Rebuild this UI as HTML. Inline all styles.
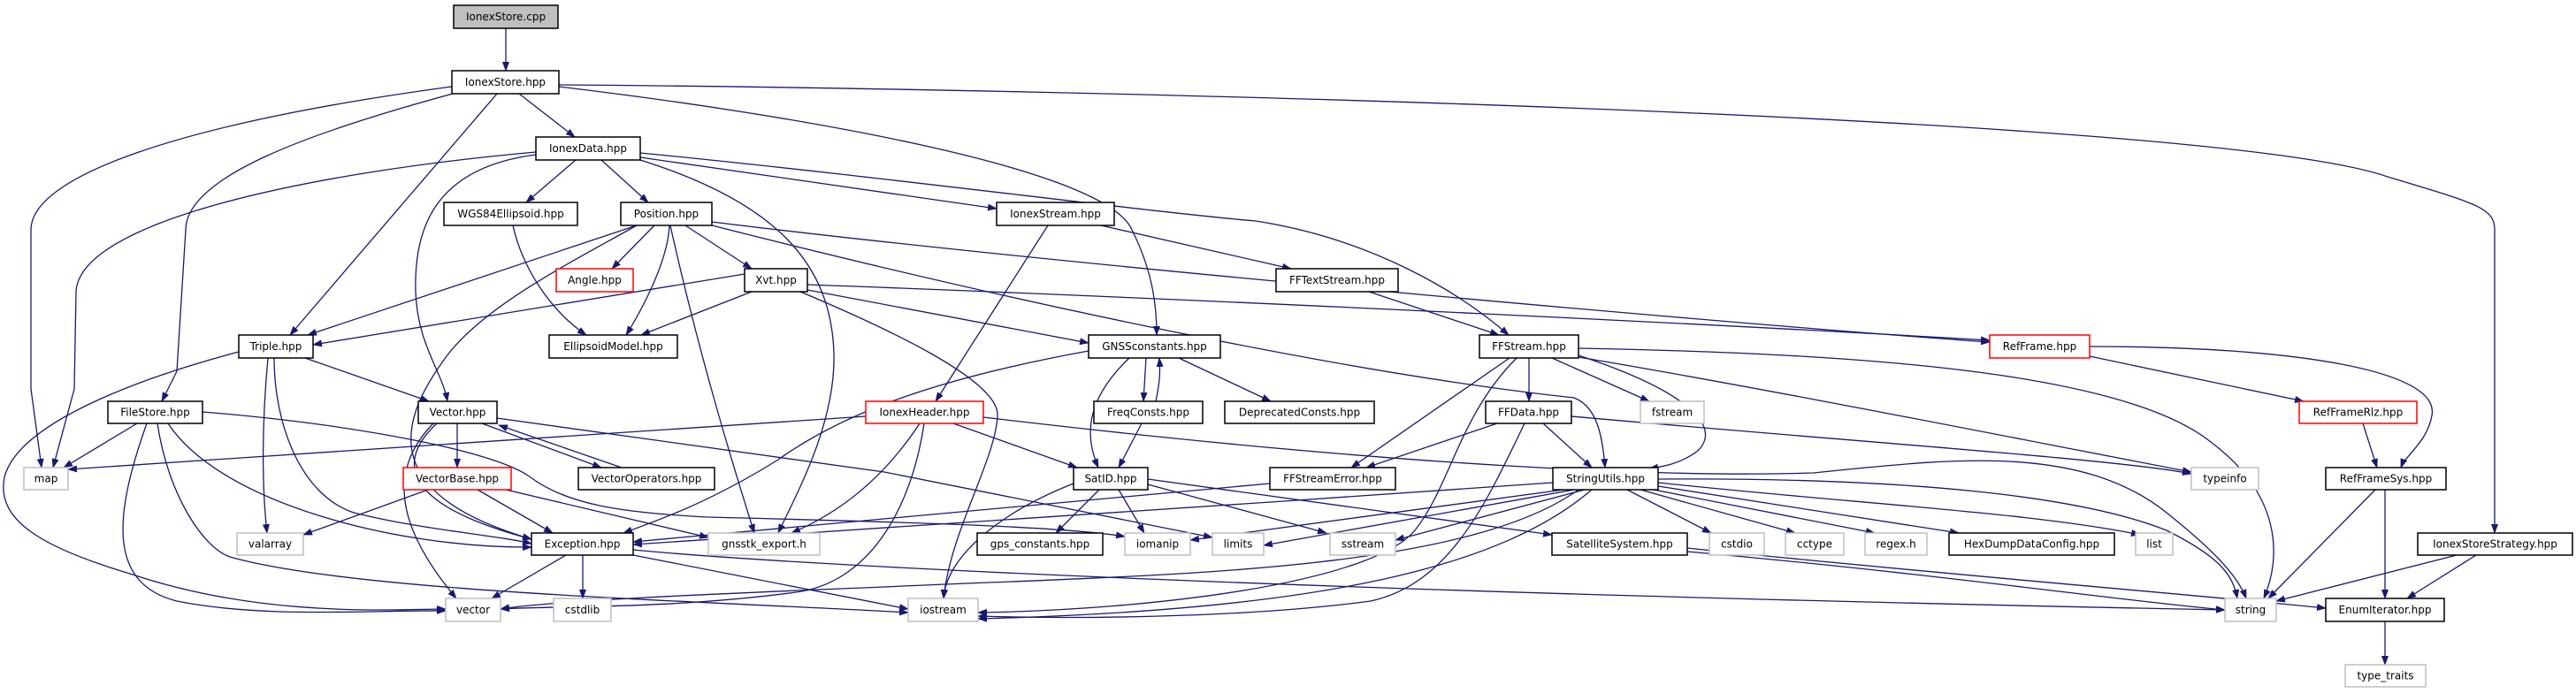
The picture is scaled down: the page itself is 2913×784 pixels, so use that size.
<!DOCTYPE html>
<html><head><meta charset="utf-8"><style>
html,body{margin:0;padding:0;background:#fff;}
svg{display:block;}
text{font-family:"DejaVu Sans","Liberation Sans",sans-serif;font-size:12px;fill:#000;}
.e{fill:none;stroke:#191970;stroke-width:1.3;marker-end:url(#a);}
.n{fill:#fff;stroke:#000;stroke-width:1.5;}
.r{fill:#fff;stroke:#ff0000;stroke-width:1.5;}
.g{fill:#fff;stroke:#bfbfbf;stroke-width:1.5;}
.c{fill:#bfbfbf;stroke:#000;stroke-width:1.5;}
</style></head><body>
<svg width="2913" height="784" viewBox="0 0 2913 784" xmlns="http://www.w3.org/2000/svg">
<defs><marker id="a" markerUnits="userSpaceOnUse" markerWidth="11" markerHeight="8" refX="10" refY="4" orient="auto"><path d="M0,0 L11,4 L0,8 z" fill="#191970"/></marker></defs>
<g>
<path class="e" d="M572,32 L572,80"/>
<path class="e" d="M511,98 C200,140 35,200 35,260 L35,440 L47,529"/>
<path class="e" d="M512,106 C350,150 210,200 210,260 L200,420 L183,454"/>
<path class="e" d="M562,106 L328,379"/>
<path class="e" d="M587,106 L650,155"/>
<path class="e" d="M632,98 C900,130 1250,190 1280,260 C1305,310 1308,350 1308,379"/>
<path class="e" d="M632,96 C1200,100 2500,130 2700,200 C2800,230 2821,235 2821,260 L2821,603"/>
<path class="e" d="M606,172 C350,195 90,250 86,330 L84,440 L60,529"/>
<path class="e" d="M606,175 C490,190 468,260 470,330 C472,390 500,420 506,454"/>
<path class="e" d="M651,181 L595,229"/>
<path class="e" d="M680,181 L733,229"/>
<path class="e" d="M724,178 L1127,236"/>
<path class="e" d="M724,173 C1000,200 1300,240 1420,250 C1550,270 1650,330 1706,379"/>
<path class="e" d="M724,181 C880,230 940,300 943,400 C945,480 900,560 880,603"/>
<path class="e" d="M580,255 C590,300 620,350 663,379"/>
<path class="e" d="M720,255 L348,379"/>
<path class="e" d="M720,255 C640,300 540,350 500,410 C450,480 430,560 601,610"/>
<path class="e" d="M740,255 L692,304"/>
<path class="e" d="M757,255 C755,300 720,360 708,379"/>
<path class="e" d="M758,255 C790,400 830,530 853,603"/>
<path class="e" d="M775,255 L850,304"/>
<path class="e" d="M805,251 C1200,300 2000,370 2250,387"/>
<path class="e" d="M805,255 C1100,330 1500,420 1780,450 C1805,460 1812,490 1815,529"/>
<path class="e" d="M842,310 L354,390"/>
<path class="e" d="M850,330 L725,379"/>
<path class="e" d="M913,328 L1231,388"/>
<path class="e" d="M913,322 C1400,340 2000,370 2250,385"/>
<path class="e" d="M905,330 C1000,370 1130,430 1128,470 C1126,520 1075,600 1067,677"/>
<path class="e" d="M345,405 L485,454"/>
<path class="e" d="M303,405 C296,480 296,550 302,603"/>
<path class="e" d="M310,405 C310,480 340,560 400,580 C480,600 560,605 601,615"/>
<path class="e" d="M270,398 C150,430 20,480 5,540 C-5,590 50,620 150,650 C300,700 450,689 504,689"/>
<path class="e" d="M155,479 L72,529"/>
<path class="e" d="M190,479 C250,570 450,620 601,619"/>
<path class="e" d="M166,479 C130,580 120,660 200,680 C300,700 420,690 504,691"/>
<path class="e" d="M178,479 C190,560 230,620 260,630 C400,670 800,680 1027,693"/>
<path class="e" d="M229,466 C400,480 560,510 600,540 C640,570 700,580 800,585 C1000,590 1200,595 1272,607"/>
<path class="e" d="M517,479 L517,529"/>
<path class="e" d="M545,479 L680,529"/>
<path class="e" d="M703,529 L564,481"/>
<path class="e" d="M494,479 C450,520 450,570 601,610"/>
<path class="e" d="M490,479 C430,540 460,610 516,677"/>
<path class="e" d="M562,473 L1000,534 L1371,608"/>
<path class="e" d="M484,554 L343,605"/>
<path class="e" d="M540,554 L625,603"/>
<path class="e" d="M572,554 L801,608"/>
<path class="e" d="M979,471 L77,531"/>
<path class="e" d="M1078,479 L1218,529"/>
<path class="e" d="M1040,479 C1000,540 950,580 895,603"/>
<path class="e" d="M1045,479 C1030,580 980,660 900,670 C750,690 620,685 566,689"/>
<path class="e" d="M1112,472 C1600,530 1900,540 2050,535 C2200,520 2350,500 2450,580 C2500,620 2530,650 2540,677"/>
<path class="e" d="M1185,255 L1058,454"/>
<path class="e" d="M1245,255 L1460,304"/>
<path class="e" d="M1548,330 L1695,379"/>
<path class="e" d="M1277,405 C1230,450 1225,490 1242,529"/>
<path class="e" d="M1296,405 L1293,454"/>
<path class="e" d="M1307,454 C1312,430 1312,420 1311,405"/>
<path class="e" d="M1333,405 L1437,454"/>
<path class="e" d="M1231,397 C1050,430 950,470 880,520 C800,570 740,590 705,603"/>
<path class="e" d="M1291,479 L1265,529"/>
<path class="e" d="M1243,554 L1194,603"/>
<path class="e" d="M1265,554 L1294,603"/>
<path class="e" d="M1298,548 L1500,603"/>
<path class="e" d="M1298,542 L1755,605"/>
<path class="e" d="M1214,547 C1130,580 1070,630 1067,677"/>
<path class="e" d="M1707,405 L1528,529"/>
<path class="e" d="M1729,405 L1729,454"/>
<path class="e" d="M1755,405 L1865,454"/>
<path class="e" d="M1785,402 C1900,440 1950,480 1920,510 C1900,525 1880,528 1865,530"/>
<path class="e" d="M1785,404 C2000,440 2300,500 2478,534"/>
<path class="e" d="M1785,394 C2100,400 2400,420 2500,500 C2580,560 2580,630 2560,677"/>
<path class="e" d="M1715,405 C1650,470 1640,550 1600,600 C1550,660 1300,690 1106,693"/>
<path class="e" d="M1693,479 L1545,529"/>
<path class="e" d="M1745,479 L1800,529"/>
<path class="e" d="M1777,471 C2100,500 2400,520 2478,536"/>
<path class="e" d="M1724,479 C1680,570 1640,660 1550,680 C1400,700 1200,700 1106,697"/>
<path class="e" d="M1436,547 L716,613"/>
<path class="e" d="M1756,546 C1400,570 1000,600 716,616"/>
<path class="e" d="M1768,554 L1346,611"/>
<path class="e" d="M1780,554 L1429,617"/>
<path class="e" d="M1792,554 L1578,611"/>
<path class="e" d="M1800,554 C1700,640 1500,690 1106,700"/>
<path class="e" d="M1785,554 C1650,650 1300,650 1000,664 C800,672 620,680 566,689"/>
<path class="e" d="M1840,554 L1935,603"/>
<path class="e" d="M1855,554 L2030,603"/>
<path class="e" d="M1870,554 L2120,603"/>
<path class="e" d="M1875,550 L2215,603"/>
<path class="e" d="M1875,546 C2100,570 2300,580 2420,605"/>
<path class="e" d="M1875,542 C2150,540 2350,560 2450,600 C2510,630 2525,650 2530,677"/>
<path class="e" d="M1908,624 C2200,650 2400,680 2516,690"/>
<path class="e" d="M1908,620 C2200,650 2450,670 2630,688"/>
<path class="e" d="M640,628 L556,677"/>
<path class="e" d="M659,628 L659,677"/>
<path class="e" d="M716,628 L1027,689"/>
<path class="e" d="M716,622 C900,640 1500,670 2516,690"/>
<path class="e" d="M2363,403 L2605,454"/>
<path class="e" d="M2363,392 C2600,392 2760,420 2750,470 C2745,500 2720,515 2715,529"/>
<path class="e" d="M2672,479 L2688,529"/>
<path class="e" d="M2686,554 L2565,677"/>
<path class="e" d="M2697,554 L2697,677"/>
<path class="e" d="M2778,628 L2574,680"/>
<path class="e" d="M2800,628 L2722,677"/>
<path class="e" d="M2697,703 L2697,752"/>
</g>
<g text-anchor="middle" dominant-baseline="central">
<rect class="c" x="513" y="6" width="118" height="26"/><text x="572" y="19">IonexStore.cpp</text>
<rect class="n" x="511" y="80" width="121" height="26"/><text x="571.5" y="93">IonexStore.hpp</text>
<rect class="n" x="606" y="155" width="118" height="26"/><text x="665" y="168">IonexData.hpp</text>
<rect class="n" x="502" y="229" width="151" height="26"/><text x="577.5" y="242">WGS84Ellipsoid.hpp</text>
<rect class="n" x="702" y="229" width="103" height="26"/><text x="753.5" y="242">Position.hpp</text>
<rect class="r" x="629" y="304" width="87" height="26"/><text x="672.5" y="317">Angle.hpp</text>
<rect class="n" x="842" y="304" width="71" height="26"/><text x="877.5" y="317">Xvt.hpp</text>
<rect class="n" x="270" y="379" width="84" height="26"/><text x="312" y="392">Triple.hpp</text>
<rect class="n" x="621" y="379" width="145" height="26"/><text x="693.5" y="392">EllipsoidModel.hpp</text>
<rect class="n" x="122" y="454" width="107" height="25"/><text x="175.5" y="466.5">FileStore.hpp</text>
<rect class="n" x="473" y="454" width="89" height="25"/><text x="517.5" y="466.5">Vector.hpp</text>
<rect class="g" x="27" y="529" width="50" height="25"/><text x="52" y="541.5">map</text>
<rect class="r" x="456" y="529" width="122" height="25"/><text x="517" y="541.5">VectorBase.hpp</text>
<rect class="n" x="654" y="529" width="154" height="25"/><text x="731" y="541.5">VectorOperators.hpp</text>
<rect class="g" x="268" y="603" width="75" height="25"/><text x="305.5" y="615.5">valarray</text>
<rect class="n" x="601" y="603" width="115" height="25"/><text x="658.5" y="615.5">Exception.hpp</text>
<rect class="g" x="801" y="603" width="126" height="25"/><text x="864" y="615.5">gnsstk_export.h</text>
<rect class="g" x="504" y="677" width="62" height="26"/><text x="535" y="690">vector</text>
<rect class="g" x="626" y="677" width="65" height="26"/><text x="658.5" y="690">cstdlib</text>
<rect class="n" x="1127" y="229" width="133" height="26"/><text x="1193.5" y="242">IonexStream.hpp</text>
<rect class="n" x="1443" y="304" width="138" height="26"/><text x="1512" y="317">FFTextStream.hpp</text>
<rect class="n" x="1231" y="379" width="149" height="26"/><text x="1305.5" y="392">GNSSconstants.hpp</text>
<rect class="n" x="1673" y="379" width="112" height="26"/><text x="1729" y="392">FFStream.hpp</text>
<rect class="r" x="979" y="454" width="133" height="25"/><text x="1045.5" y="466.5">IonexHeader.hpp</text>
<rect class="n" x="1237" y="454" width="123" height="25"/><text x="1298.5" y="466.5">FreqConsts.hpp</text>
<rect class="n" x="1385" y="454" width="169" height="25"/><text x="1469.5" y="466.5">DeprecatedConsts.hpp</text>
<rect class="n" x="1680" y="454" width="97" height="25"/><text x="1728.5" y="466.5">FFData.hpp</text>
<rect class="g" x="1855" y="454" width="72" height="25"/><text x="1891" y="466.5">fstream</text>
<rect class="n" x="1214" y="529" width="84" height="25"/><text x="1256" y="541.5">SatID.hpp</text>
<rect class="n" x="1436" y="529" width="142" height="25"/><text x="1507" y="541.5">FFStreamError.hpp</text>
<rect class="n" x="1756" y="529" width="119" height="25"/><text x="1815.5" y="541.5">StringUtils.hpp</text>
<rect class="n" x="1105" y="603" width="142" height="25"/><text x="1176" y="615.5">gps_constants.hpp</text>
<rect class="g" x="1272" y="603" width="74" height="25"/><text x="1309" y="615.5">iomanip</text>
<rect class="g" x="1371" y="603" width="58" height="25"/><text x="1400" y="615.5">limits</text>
<rect class="g" x="1504" y="603" width="74" height="25"/><text x="1541" y="615.5">sstream</text>
<rect class="n" x="1755" y="603" width="153" height="25"/><text x="1831.5" y="615.5">SatelliteSystem.hpp</text>
<rect class="g" x="1933" y="603" width="62" height="25"/><text x="1964" y="615.5">cstdio</text>
<rect class="g" x="2019" y="603" width="66" height="25"/><text x="2052" y="615.5">cctype</text>
<rect class="g" x="2109" y="603" width="70" height="25"/><text x="2144" y="615.5">regex.h</text>
<rect class="n" x="2204" y="603" width="187" height="25"/><text x="2297.5" y="615.5">HexDumpDataConfig.hpp</text>
<rect class="g" x="2415" y="603" width="42" height="25"/><text x="2436" y="615.5">list</text>
<rect class="g" x="1027" y="677" width="79" height="26"/><text x="1066.5" y="690">iostream</text>
<rect class="r" x="2250" y="379" width="113" height="26"/><text x="2306.5" y="392">RefFrame.hpp</text>
<rect class="r" x="2600" y="454" width="133" height="25"/><text x="2666.5" y="466.5">RefFrameRlz.hpp</text>
<rect class="g" x="2478" y="529" width="76" height="25"/><text x="2516" y="541.5">typeinfo</text>
<rect class="n" x="2630" y="529" width="136" height="25"/><text x="2698" y="541.5">RefFrameSys.hpp</text>
<rect class="n" x="2734" y="603" width="175" height="25"/><text x="2821.5" y="615.5">IonexStoreStrategy.hpp</text>
<rect class="g" x="2516" y="677" width="58" height="26"/><text x="2545" y="690">string</text>
<rect class="n" x="2630" y="677" width="134" height="26"/><text x="2697" y="690">EnumIterator.hpp</text>
<rect class="g" x="2652" y="752" width="91" height="25"/><text x="2697.5" y="764.5">type_traits</text>
</g>
</svg>
</body></html>
